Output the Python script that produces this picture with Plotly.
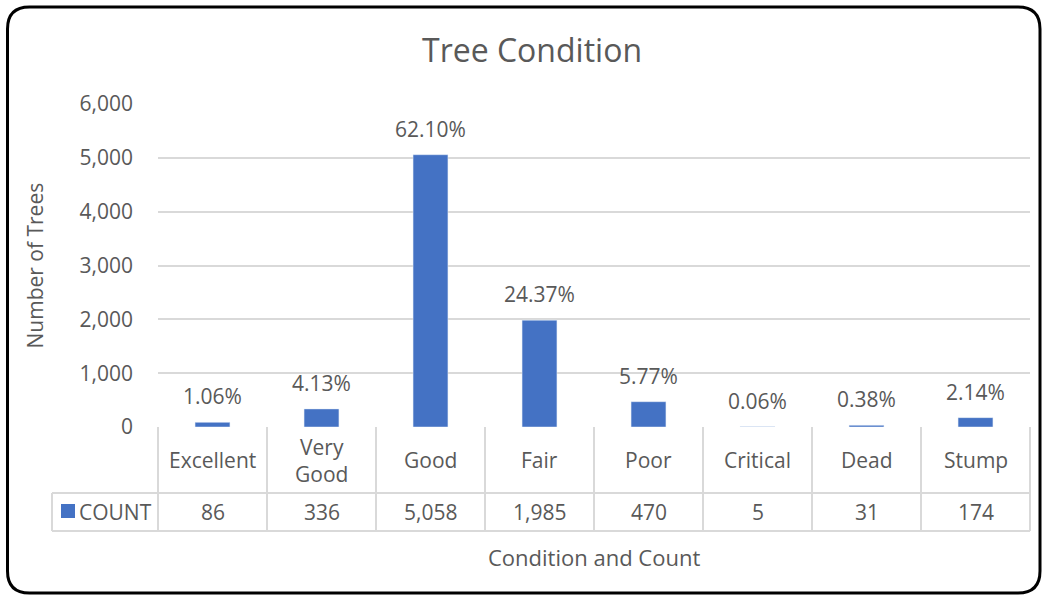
import plotly.graph_objects as go

categories = ["Excellent", "Very Good", "Good", "Fair", "Poor", "Critical", "Dead", "Stump"]
table_labels = ["Excellent", "Very<br>Good", "Good", "Fair", "Poor", "Critical", "Dead", "Stump"]
counts = [86, 336, 5058, 1985, 470, 5, 31, 174]
pct_labels = ["1.06%", "4.13%", "62.10%", "24.37%", "5.77%", "0.06%", "0.38%", "2.14%"]
y_ticks = [0, 1000, 2000, 3000, 4000, 5000, 6000]
series_name = "COUNT"

W, H = 1047, 598
L, R, T, B = 158, 1030, 104, 427  # plot area pixels
FONT = "Open Sans"
GRAY = "#595959"
BLUE = "#4472C4"
LINE = "#d9d9d9"
FS = 21


def px(x):
    return (x - L) / (R - L)


def py(y):
    return (B - y) / (B - T)


xs = list(range(len(categories)))

fig = go.Figure()
fig.add_trace(go.Bar(x=xs, y=counts, marker_color=BLUE, width=0.32,
                     name=series_name, showlegend=False, hoverinfo="y"))

annotations = []
# data labels
for i, (c, p) in enumerate(zip(counts, pct_labels)):
    annotations.append(dict(x=i, y=c, xref="x", yref="y", text=p, showarrow=False,
                            yanchor="middle", yshift=26,
                            font=dict(family=FONT, size=FS, color=GRAY)))
# table category labels
for i, t in enumerate(table_labels):
    annotations.append(dict(x=i, y=py(460), xref="x", yref="paper", text=t, showarrow=False,
                            yanchor="middle", font=dict(family=FONT, size=FS, color=GRAY)))
# table count values
for i, c in enumerate(counts):
    annotations.append(dict(x=i, y=py(512), xref="x", yref="paper", text=f"{c:,}", showarrow=False,
                            yanchor="middle", font=dict(family=FONT, size=FS, color=GRAY)))
# legend key text
annotations.append(dict(x=px(77), y=py(512), xref="paper", yref="paper", text=series_name,
                        showarrow=False, xanchor="left", yanchor="middle",
                        font=dict(family=FONT, size=FS, color=GRAY)))
# x axis title
annotations.append(dict(x=0.5, y=py(557), xref="paper", yref="paper", text="Condition and Count",
                        showarrow=False, yanchor="middle", font=dict(family=FONT, size=22, color=GRAY)))
# y axis title
annotations.append(dict(x=px(34), y=0.5, xref="paper", yref="paper", text="Number of Trees",
                        showarrow=False, textangle=-90, xanchor="center", yanchor="middle",
                        font=dict(family=FONT, size=FS, color=GRAY)))
# chart title
annotations.append(dict(x=px(532), y=py(49), xref="paper", yref="paper", text="Tree Condition",
                        showarrow=False, yanchor="middle", font=dict(family=FONT, size=32, color=GRAY)))

shapes = []
n = len(categories)
# vertical table lines
for i in range(n + 1):
    shapes.append(dict(type="line", xref="x domain", yref="paper", x0=i / n, x1=i / n,
                       y0=py(B), y1=py(531), line=dict(color=LINE, width=2)))
shapes.append(dict(type="line", xref="paper", yref="paper", x0=px(52), x1=px(52),
                   y0=py(493), y1=py(531), line=dict(color=LINE, width=2)))
# horizontal table lines
for yy in (493, 531):
    shapes.append(dict(type="line", xref="paper", yref="paper", x0=px(52), x1=1,
                       y0=py(yy), y1=py(yy), line=dict(color=LINE, width=2)))
# legend key
shapes.append(dict(type="rect", xref="paper", yref="paper", x0=px(61), x1=px(75),
                   y0=py(518), y1=py(504), fillcolor=BLUE, line=dict(width=0)))

# rounded outer border
l, r, t, b, rad = 7.5, 1040, 7, 593, 22
path = (f"M {px(l + rad)},{py(t)} L {px(r - rad)},{py(t)} Q {px(r)},{py(t)} {px(r)},{py(t + rad)} "
        f"L {px(r)},{py(b - rad)} Q {px(r)},{py(b)} {px(r - rad)},{py(b)} "
        f"L {px(l + rad)},{py(b)} Q {px(l)},{py(b)} {px(l)},{py(b - rad)} "
        f"L {px(l)},{py(t + rad)} Q {px(l)},{py(t)} {px(l + rad)},{py(t)} Z")
shapes.append(dict(type="path", xref="paper", yref="paper", path=path,
                   line=dict(color="black", width=3)))

fig.update_layout(
    width=W, height=H,
    margin=dict(l=L, r=W - R, t=T, b=H - B, pad=0),
    paper_bgcolor="white", plot_bgcolor="white",
    font=dict(family=FONT, size=FS, color=GRAY),
    xaxis=dict(range=[-0.5, n - 0.5], showticklabels=False, showgrid=False,
               zeroline=False, showline=False, fixedrange=True),
    yaxis=dict(range=[0, 6000], tickvals=y_ticks, tickformat=",d", showgrid=True,
               gridcolor=LINE, gridwidth=2, zeroline=False, showline=False,
               ticks="", ticklabelstandoff=24, fixedrange=True,
               tickfont=dict(family=FONT, size=FS, color=GRAY)),
    annotations=annotations, shapes=shapes, showlegend=False,
)

fig.write_html("out.html", config={"displayModeBar": False},
               post_script="document.body.style.margin='0';document.body.style.overflow='hidden';")
